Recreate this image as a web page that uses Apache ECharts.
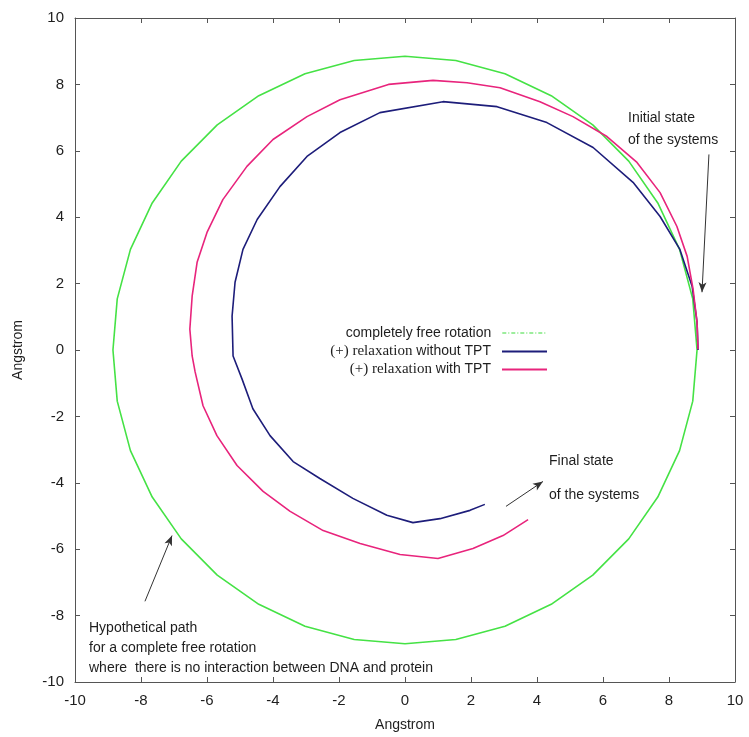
<!DOCTYPE html>
<html>
<head>
<meta charset="utf-8">
<title>Rotation paths</title>
<script src="https://cdn.jsdelivr.net/npm/echarts@6/dist/echarts.min.js"></script>
<style>
  html, body { margin: 0; padding: 0; background: #fff; }
  #chart { width: 749px; height: 737px; }
</style>
</head>
<body>
<div id="chart"></div>
<script>
// Axis ticks (Angstrom)
const xTicks = [-10, -8, -6, -4, -2, 0, 2, 4, 6, 8, 10];
const yTicks = [-10, -8, -6, -4, -2, 0, 2, 4, 6, 8, 10];

// Series names
const seriesNames = [
  'completely free rotation',
  '(+) relaxation without TPT',
  '(+) relaxation with TPT'
];

// Hypothetical free rotation path (closed loop), [x, y] in Angstrom
const freeRotation = [
  [8.85, 0.00], [8.72, 1.54], [8.32, 3.03], [7.66, 4.43], [6.78, 5.69],
  [5.69, 6.78], [4.43, 7.66], [3.03, 8.32], [1.54, 8.72], [0.00, 8.85],
  [-1.54, 8.72], [-3.03, 8.32], [-4.43, 7.66], [-5.69, 6.78], [-6.78, 5.69],
  [-7.66, 4.43], [-8.32, 3.03], [-8.72, 1.54], [-8.85, 0.00], [-8.72, -1.54],
  [-8.32, -3.03], [-7.66, -4.43], [-6.78, -5.69], [-5.69, -6.78], [-4.43, -7.66],
  [-3.03, -8.32], [-1.54, -8.72], [0.00, -8.85], [1.54, -8.72], [3.03, -8.32],
  [4.43, -7.66], [5.69, -6.78], [6.78, -5.69], [7.66, -4.43], [8.32, -3.03],
  [8.72, -1.54], [8.85, 0.00]
];

// Relaxation path without TPT
const relaxNoTPT = [
  [8.88, 0.00], [8.85, 0.84], [8.70, 1.92], [8.33, 3.03], [7.73, 4.02],
  [6.91, 5.05], [5.70, 6.10], [4.30, 6.85], [2.79, 7.33], [1.15, 7.48],
  [-0.76, 7.15], [-1.97, 6.55], [-2.97, 5.83], [-3.79, 4.92], [-4.48, 3.93],
  [-4.91, 3.03], [-5.15, 2.04], [-5.24, 1.02], [-5.21, -0.18], [-4.94, -0.87],
  [-4.61, -1.77], [-4.09, -2.58], [-3.39, -3.36], [-2.58, -3.87], [-1.58, -4.47],
  [-0.55, -4.98], [0.24, -5.20], [1.06, -5.08], [1.97, -4.83], [2.42, -4.65]
];

// Relaxation path with TPT
const relaxTPT = [
  [8.88, 0.02], [8.85, 0.84], [8.73, 1.83], [8.55, 2.82], [8.24, 3.72],
  [7.73, 4.74], [7.03, 5.65], [6.12, 6.43], [5.09, 7.03], [4.09, 7.48],
  [2.88, 7.90], [1.88, 8.05], [0.85, 8.12], [-0.50, 8.00], [-1.97, 7.54],
  [-2.97, 7.03], [-4.00, 6.34], [-4.79, 5.53], [-5.52, 4.53], [-6.00, 3.54],
  [-6.30, 2.64], [-6.45, 1.62], [-6.52, 0.63], [-6.45, -0.18], [-6.36, -0.66],
  [-6.12, -1.68], [-5.70, -2.58], [-5.09, -3.48], [-4.30, -4.26], [-3.48, -4.86],
  [-2.48, -5.44], [-1.36, -5.83], [-0.15, -6.16], [1.00, -6.28], [2.06, -5.98],
  [2.97, -5.59], [3.73, -5.11]
];

// Annotation arrows: [from, to] in Angstrom
const arrows = [
  [[9.21, 5.89], [9.00, 1.74]],
  [[3.06, -4.71], [4.18, -3.96]],
  [[-7.88, -7.57], [-7.06, -5.59]]
];

const SANS = '"Liberation Sans", Arial, Helvetica, sans-serif';
const SERIF = '"Liberation Serif", "Times New Roman", serif';
const AXIS_COLOR = '#555';
const TEXT_COLOR = '#1e1e1e';

const colors = ['#45e245', '#1d1d7a', '#e8247c'];

function axisCommon(extra) {
  return Object.assign({
    type: 'value',
    min: xTicks[0],
    max: xTicks[xTicks.length - 1],
    interval: 2,
    splitLine: { show: false },
    axisLine: { show: true, onZero: false, lineStyle: { color: AXIS_COLOR, width: 1 } },
    axisTick: { show: true, inside: true, length: 5, lineStyle: { color: AXIS_COLOR } },
    axisLabel: { show: true, color: TEXT_COLOR, fontSize: 15, fontFamily: SANS, margin: 11 }
  }, extra);
}

function legendFor(i, top, extra) {
  return Object.assign({
    show: true,
    data: [seriesNames[i]],
    orient: 'vertical',
    right: 201,
    top: top,
    padding: 0,
    align: 'right',
    itemWidth: 45,
    itemHeight: 14,
    itemStyle: { opacity: 0 },
    selectedMode: false,
    formatter: function (name) {
      if (name.indexOf('(+)') === 0) {
        const rest = name.replace('(+) relaxation ', '');
        return '{s|(+) relaxation} ' + rest;
      }
      return name;
    },
    textStyle: {
      fontSize: 14,
      fontFamily: SANS,
      color: TEXT_COLOR,
      padding: [0, 6, 0, 0],
      rich: {
        s: { fontFamily: SERIF, fontSize: 15, color: TEXT_COLOR }
      }
    }
  }, extra || {});
}

const chart = echarts.init(document.getElementById('chart'), null, { renderer: 'canvas' });

function pathSeries(i, data) {
  return {
    name: seriesNames[i],
    type: 'line',
    data: data,
    xAxisIndex: 0,
    yAxisIndex: 0,
    symbol: 'none',
    smooth: false,
    animation: false,
    lineStyle: { color: colors[i], width: 1.6 },
    itemStyle: { color: colors[i] },
    z: 3 + i
  };
}

const option = {
  backgroundColor: '#ffffff',
  animation: false,
  grid: { left: 75, right: 14, top: 18, bottom: 53, containLabel: false },
  xAxis: [
    axisCommon({
      position: 'bottom',
      name: 'Angstrom',
      nameLocation: 'middle',
      nameGap: 36,
      nameTextStyle: { fontSize: 14, fontFamily: SANS, color: TEXT_COLOR }
    }),
    axisCommon({ position: 'top', axisLabel: { show: false } })
  ],
  yAxis: [
    axisCommon({
      position: 'left',
      min: yTicks[0],
      max: yTicks[yTicks.length - 1],
      name: 'Angstrom',
      nameLocation: 'middle',
      nameGap: 50,
      nameTextStyle: { fontSize: 14, fontFamily: SANS, color: TEXT_COLOR }
    }),
    axisCommon({
      position: 'right',
      min: yTicks[0],
      max: yTicks[yTicks.length - 1],
      axisLabel: { show: false }
    })
  ],
  legend: [
    legendFor(0, 326, { lineStyle: { type: [4, 2, 1, 2], width: 1.4, color: '#7ee87e' } }),
    legendFor(1, 344),
    legendFor(2, 362)
  ],
  series: [
    pathSeries(0, freeRotation),
    pathSeries(1, relaxNoTPT),
    pathSeries(2, relaxTPT),
    {
      name: 'arrows',
      type: 'line',
      data: [],
      xAxisIndex: 0,
      yAxisIndex: 0,
      symbol: 'none',
      animation: false,
      markLine: {
        silent: true,
        animation: false,
        symbol: ['none', 'arrow'],
        symbolSize: [6, 10],
        label: { show: false },
        lineStyle: { color: '#333', width: 1, type: 'solid' },
        data: arrows.map(a => [{ coord: a[0] }, { coord: a[1] }])
      }
    }
  ],
  graphic: [
    { type: 'text', x: 628, y: 118, style: { text: 'Initial state', font: '14px ' + SANS, fill: TEXT_COLOR, textVerticalAlign: 'middle' } },
    { type: 'text', x: 628, y: 140, style: { text: 'of the systems', font: '14px ' + SANS, fill: TEXT_COLOR, textVerticalAlign: 'middle' } },
    { type: 'text', x: 549, y: 461, style: { text: 'Final state', font: '14px ' + SANS, fill: TEXT_COLOR, textVerticalAlign: 'middle' } },
    { type: 'text', x: 549, y: 495, style: { text: 'of the systems', font: '14px ' + SANS, fill: TEXT_COLOR, textVerticalAlign: 'middle' } },
    { type: 'text', x: 89, y: 628, style: { text: 'Hypothetical path', font: '14px ' + SANS, fill: TEXT_COLOR, textVerticalAlign: 'middle' } },
    { type: 'text', x: 89, y: 648, style: { text: 'for a complete free rotation', font: '14px ' + SANS, fill: TEXT_COLOR, textVerticalAlign: 'middle' } },
    { type: 'text', x: 89, y: 668, style: { text: 'where  there is no interaction between DNA and protein', font: '14px ' + SANS, fill: TEXT_COLOR, textVerticalAlign: 'middle' } }
  ]
};

chart.setOption(option);
</script>
</body>
</html>
